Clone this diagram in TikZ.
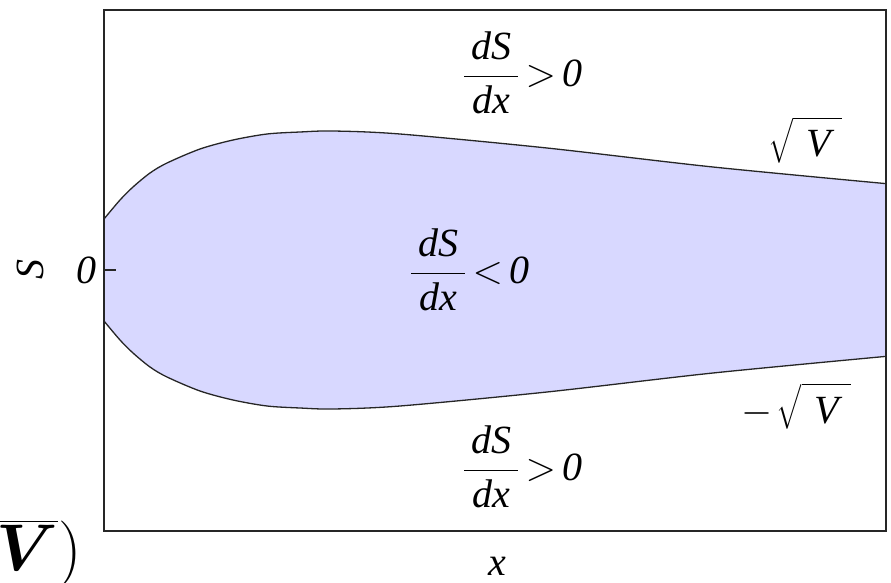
\RequirePackage{fix-cm}
\documentclass[tikz,border=0pt]{standalone}
\usepackage{amsmath,bm}
\usepackage{fontspec}
\setmainfont{Liberation Serif}
\definecolor{regfill}{RGB}{216,216,255}
\tikzset{
  lbl/.style={inner sep=0pt, font=\fontsize{40}{48}\selectfont},
  bound/.style={line width=1.3pt, black!85},
  framebox/.style={line width=2pt, black!85}
}
\newcommand{\fr}[2]{\dfrac{\,\textit{#1}\,}{\,\textit{#2}\,}}
\newcommand{\rel}[1]{\mkern3mu{#1}\mkern3mu}
\newcommand{\rootV}{\sqrt{\rule[-4pt]{0pt}{38pt}\mkern6mu\textit{V}\mkern5mu}}
\begin{document}
\begin{tikzpicture}[x=1pt,y=-1pt]
\useasboundingbox (0,0) rectangle (891,583);
\def\upper{(104,219) (120,200) (133,187) (150,173) (167,163) (200,149) (233,140) (267,134) (300,132) (333,131) (400,134) (547,148) (713,167) (890,184)}
\def\lowerrev{(890,356) (713,373) (547,392) (400,406) (333,409) (300,408) (267,406) (233,400) (200,391) (167,377) (150,367) (133,353) (120,340) (104,321)}
\begin{scope}
  \clip (104,10) rectangle (886,531);
  \fill[regfill] plot[smooth] coordinates {\upper} -- plot[smooth] coordinates {\lowerrev} -- cycle;
  \draw[bound] plot[smooth] coordinates {\upper};
  \draw[bound] plot[smooth] coordinates {\lowerrev};
\end{scope}
\draw[framebox] (104,10) rectangle (886,531);
\coordinate (t0) at (104,270);
\coordinate (t1) at (116,270);
\draw[framebox] (t0) -- (t1);
\node[lbl, anchor=west] (top) at (463,73) {$\fr{dS}{dx}\rel{>}\textit{0}$};
\node[lbl, anchor=west] (mid) at (410,270) {$\fr{dS}{dx}\rel{<}\textit{0}$};
\node[lbl, anchor=west] (bot) at (463,467) {$\fr{dS}{dx}\rel{>}\textit{0}$};
\node[lbl, anchor=base west] (sq) at (768,157) {$\rootV$};
\node[lbl, anchor=base west] (msq) at (741,423) {$-\mkern2mu\rootV$};
\node[lbl] (zero) at (86,270) {\textit{0}};
\node[lbl, rotate=90] (ylab) at (30,269) {\textit{S}};
\node[lbl] (xlab) at (497,566) {\textit{x}};
\node[inner sep=0pt, anchor=base east, font=\fontsize{66}{70}\selectfont] (cut) at (82,570) {$\overline{\bm{V}})$};
\end{tikzpicture}
\end{document}
